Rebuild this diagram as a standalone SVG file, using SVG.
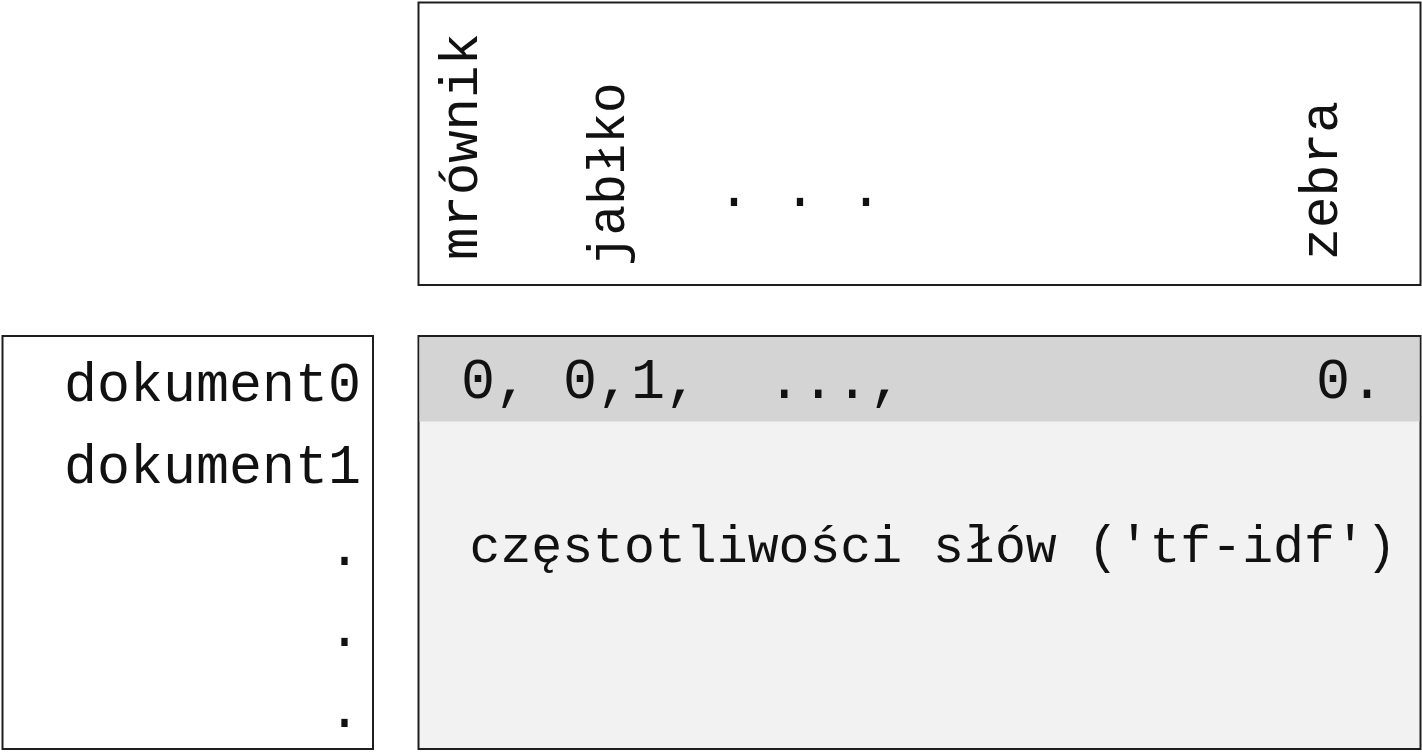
<svg xmlns="http://www.w3.org/2000/svg" width="1422" height="752" viewBox="0 0 1422 752">
<style>
.box{fill:#ffffff;stroke:#1e1e1e;stroke-width:2}
.t{font-family:"Liberation Mono","Courier New",monospace;fill:#111111}
</style>
<rect x="0" y="0" width="1422" height="752" fill="#ffffff"/>
<g id="vocab">
<rect class="box" x="418.5" y="2.5" width="1002" height="282.5"/>
<text class="t" font-size="54" transform="translate(477,260) rotate(-90)">mrównik</text>
<text class="t" font-size="51" transform="translate(624,266) rotate(-90)">jabłko</text>
<text class="t" font-size="55" x="717.5" y="206" xml:space="preserve">. . .</text>
<text class="t" font-size="53" transform="translate(1337,260) rotate(-90)">zebra</text>
</g>
<g id="documents">
<rect class="box" x="2.5" y="336" width="370.5" height="413"/>
<text class="t" font-size="55" x="361" y="401" text-anchor="end">dokument0</text>
<text class="t" font-size="55" x="361" y="483" text-anchor="end">dokument1</text>
<text class="t" font-size="55" x="361" y="565" text-anchor="end">.</text>
<text class="t" font-size="55" x="361" y="646" text-anchor="end">.</text>
<text class="t" font-size="55" x="361" y="727" text-anchor="end">.</text>
</g>
<g id="matrix">
<rect class="box" x="418.5" y="336" width="1002" height="413" fill="#f2f2f2" style="fill:#f2f2f2"/>
<rect x="419.5" y="337" width="1000" height="84.5" fill="#d4d4d4"/>
<text class="t" font-size="56.7" x="461" y="398" xml:space="preserve">0, 0,1,  ...,</text>
<text class="t" font-size="56.7" x="1316" y="398">0.</text>
<text class="t" font-size="51.5" x="469.5" y="562">częstotliwości słów ('tf-idf')</text>
</g>
<g id="connectors"></g>
</svg>
